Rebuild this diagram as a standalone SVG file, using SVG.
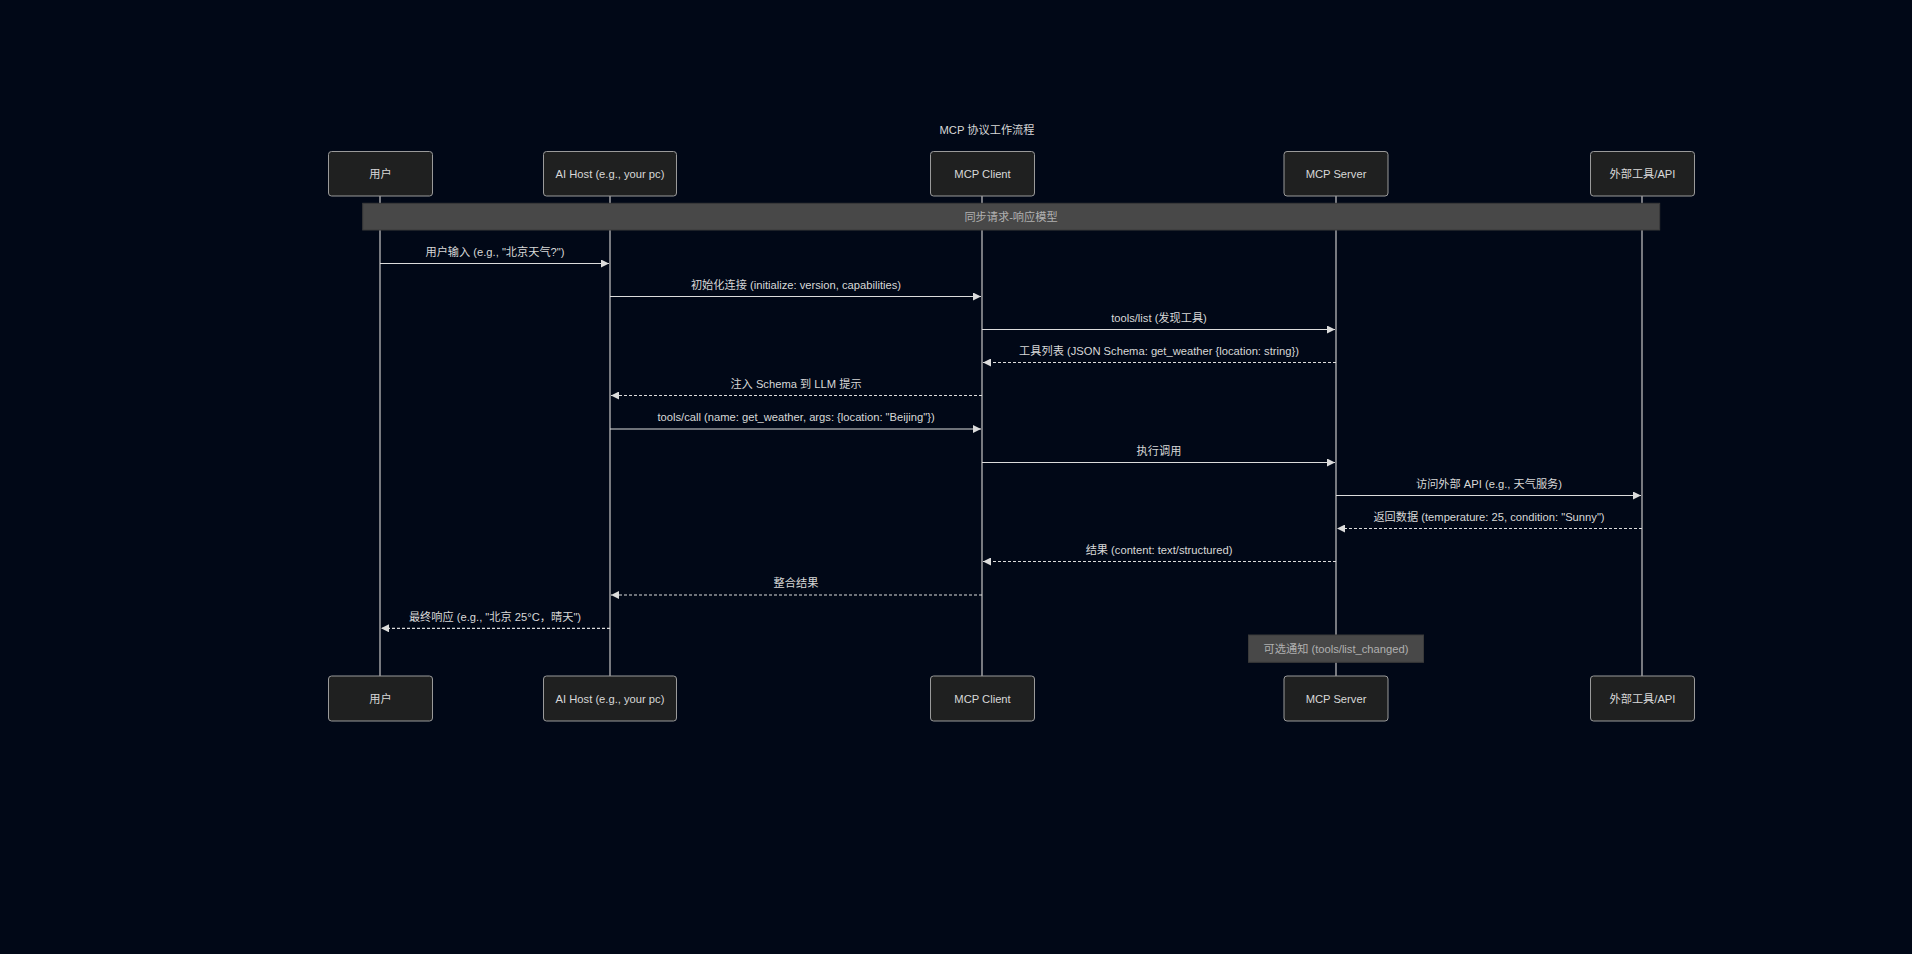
<svg xmlns="http://www.w3.org/2000/svg" width="1912" height="954" viewBox="0 0 1912 954">
<defs>
<style>
text{font-family:"Liberation Sans","Noto Sans CJK SC",sans-serif;font-size:11.2px;fill:#d8d8d8;text-anchor:middle;dominant-baseline:central}
.actor{fill:#1f2020;stroke:#9a9a9a;stroke-width:1}
.life{stroke:#b8b8b8;stroke-width:1.3;fill:none}
.msg{stroke:#dcdcdc;stroke-width:1.2;fill:none}
.dash{stroke-dasharray:3,2}
.note{fill:#484848;stroke:#3a3a3a;stroke-width:1}
.notetxt{fill:#b0b0b0}
</style>
<marker id="ah" viewBox="0 0 10 10" refX="10" refY="5" markerWidth="8" markerHeight="8" markerUnits="userSpaceOnUse" orient="auto">
<path d="M0,0 L10,5 L0,10 z" fill="#dcdcdc"/>
</marker>
</defs>
<rect x="0" y="0" width="1912" height="954" fill="#010817"/>
<text x="987" y="130">MCP 协议工作流程</text>
<g id="lifelines">
<line class="life" x1="380" y1="196" x2="380" y2="676"/>
<line class="life" x1="610" y1="196" x2="610" y2="676"/>
<line class="life" x1="982" y1="196" x2="982" y2="676"/>
<line class="life" x1="1336" y1="196" x2="1336" y2="676"/>
<line class="life" x1="1642" y1="196" x2="1642" y2="676"/>
</g>
<g id="actor-user-top"><rect class="actor" x="328.5" y="151.5" width="104" height="44.5" rx="3"/><text x="380.5" y="174">用户</text></g>
<g id="actor-host-top"><rect class="actor" x="543.5" y="151.5" width="133" height="44.5" rx="3"/><text x="610" y="174">AI Host (e.g., your pc)</text></g>
<g id="actor-client-top"><rect class="actor" x="930.5" y="151.5" width="104" height="44.5" rx="3"/><text x="982.5" y="174">MCP Client</text></g>
<g id="actor-server-top"><rect class="actor" x="1284" y="151.5" width="104" height="44.5" rx="3"/><text x="1336" y="174">MCP Server</text></g>
<g id="actor-ext-top"><rect class="actor" x="1590.5" y="151.5" width="104" height="44.5" rx="3"/><text x="1642.5" y="174">外部工具/API</text></g>
<g id="note-sync"><rect class="note" x="362.7" y="203.3" width="1297" height="26.7"/><text class="notetxt" x="1011" y="216.7">同步请求-响应模型</text></g>
<g id="connectors">
<line class="msg" x1="380" y1="263.5" x2="609" y2="263.5" marker-end="url(#ah)"/>
<text x="495" y="251.5">用户输入 (e.g., "北京天气?")</text>
<line class="msg" x1="610" y1="296.5" x2="981" y2="296.5" marker-end="url(#ah)"/>
<text x="796" y="284.5">初始化连接 (initialize: version, capabilities)</text>
<line class="msg" x1="982" y1="329.5" x2="1335" y2="329.5" marker-end="url(#ah)"/>
<text x="1159" y="317.5">tools/list (发现工具)</text>
<line class="msg dash" x1="1336" y1="362.5" x2="983" y2="362.5" marker-end="url(#ah)"/>
<text x="1159" y="350.5">工具列表 (JSON Schema: get_weather {location: string})</text>
<line class="msg dash" x1="982" y1="395.5" x2="611" y2="395.5" marker-end="url(#ah)"/>
<text x="796" y="383.5">注入 Schema 到 LLM 提示</text>
<line class="msg" x1="610" y1="429" x2="981" y2="429" marker-end="url(#ah)"/>
<text x="796" y="417">tools/call (name: get_weather, args: {location: "Beijing"})</text>
<line class="msg" x1="982" y1="462.5" x2="1335" y2="462.5" marker-end="url(#ah)"/>
<text x="1159" y="450.5">执行调用</text>
<line class="msg" x1="1336" y1="495.5" x2="1641" y2="495.5" marker-end="url(#ah)"/>
<text x="1489" y="483.5">访问外部 API (e.g., 天气服务)</text>
<line class="msg dash" x1="1642" y1="528.5" x2="1337" y2="528.5" marker-end="url(#ah)"/>
<text x="1489" y="516.5">返回数据 (temperature: 25, condition: "Sunny")</text>
<line class="msg dash" x1="1336" y1="561.5" x2="983" y2="561.5" marker-end="url(#ah)"/>
<text x="1159" y="549.5">结果 (content: text/structured)</text>
<line class="msg dash" x1="982" y1="595" x2="611" y2="595" marker-end="url(#ah)"/>
<text x="796" y="583">整合结果</text>
<line class="msg dash" x1="610" y1="628.3" x2="381" y2="628.3" marker-end="url(#ah)"/>
<text x="495" y="616.5">最终响应 (e.g., "北京 25°C，晴天")</text>
</g>
<g id="note-notify"><rect class="note" x="1248.5" y="635" width="175" height="27.3"/><text class="notetxt" x="1336" y="648.7">可选通知 (tools/list_changed)</text></g>
<g id="actor-user-bottom"><rect class="actor" x="328.5" y="676" width="104" height="45" rx="3"/><text x="380.5" y="698.5">用户</text></g>
<g id="actor-host-bottom"><rect class="actor" x="543.5" y="676" width="133" height="45" rx="3"/><text x="610" y="698.5">AI Host (e.g., your pc)</text></g>
<g id="actor-client-bottom"><rect class="actor" x="930.5" y="676" width="104" height="45" rx="3"/><text x="982.5" y="698.5">MCP Client</text></g>
<g id="actor-server-bottom"><rect class="actor" x="1284" y="676" width="104" height="45" rx="3"/><text x="1336" y="698.5">MCP Server</text></g>
<g id="actor-ext-bottom"><rect class="actor" x="1590.5" y="676" width="104" height="45" rx="3"/><text x="1642.5" y="698.5">外部工具/API</text></g>
</svg>
